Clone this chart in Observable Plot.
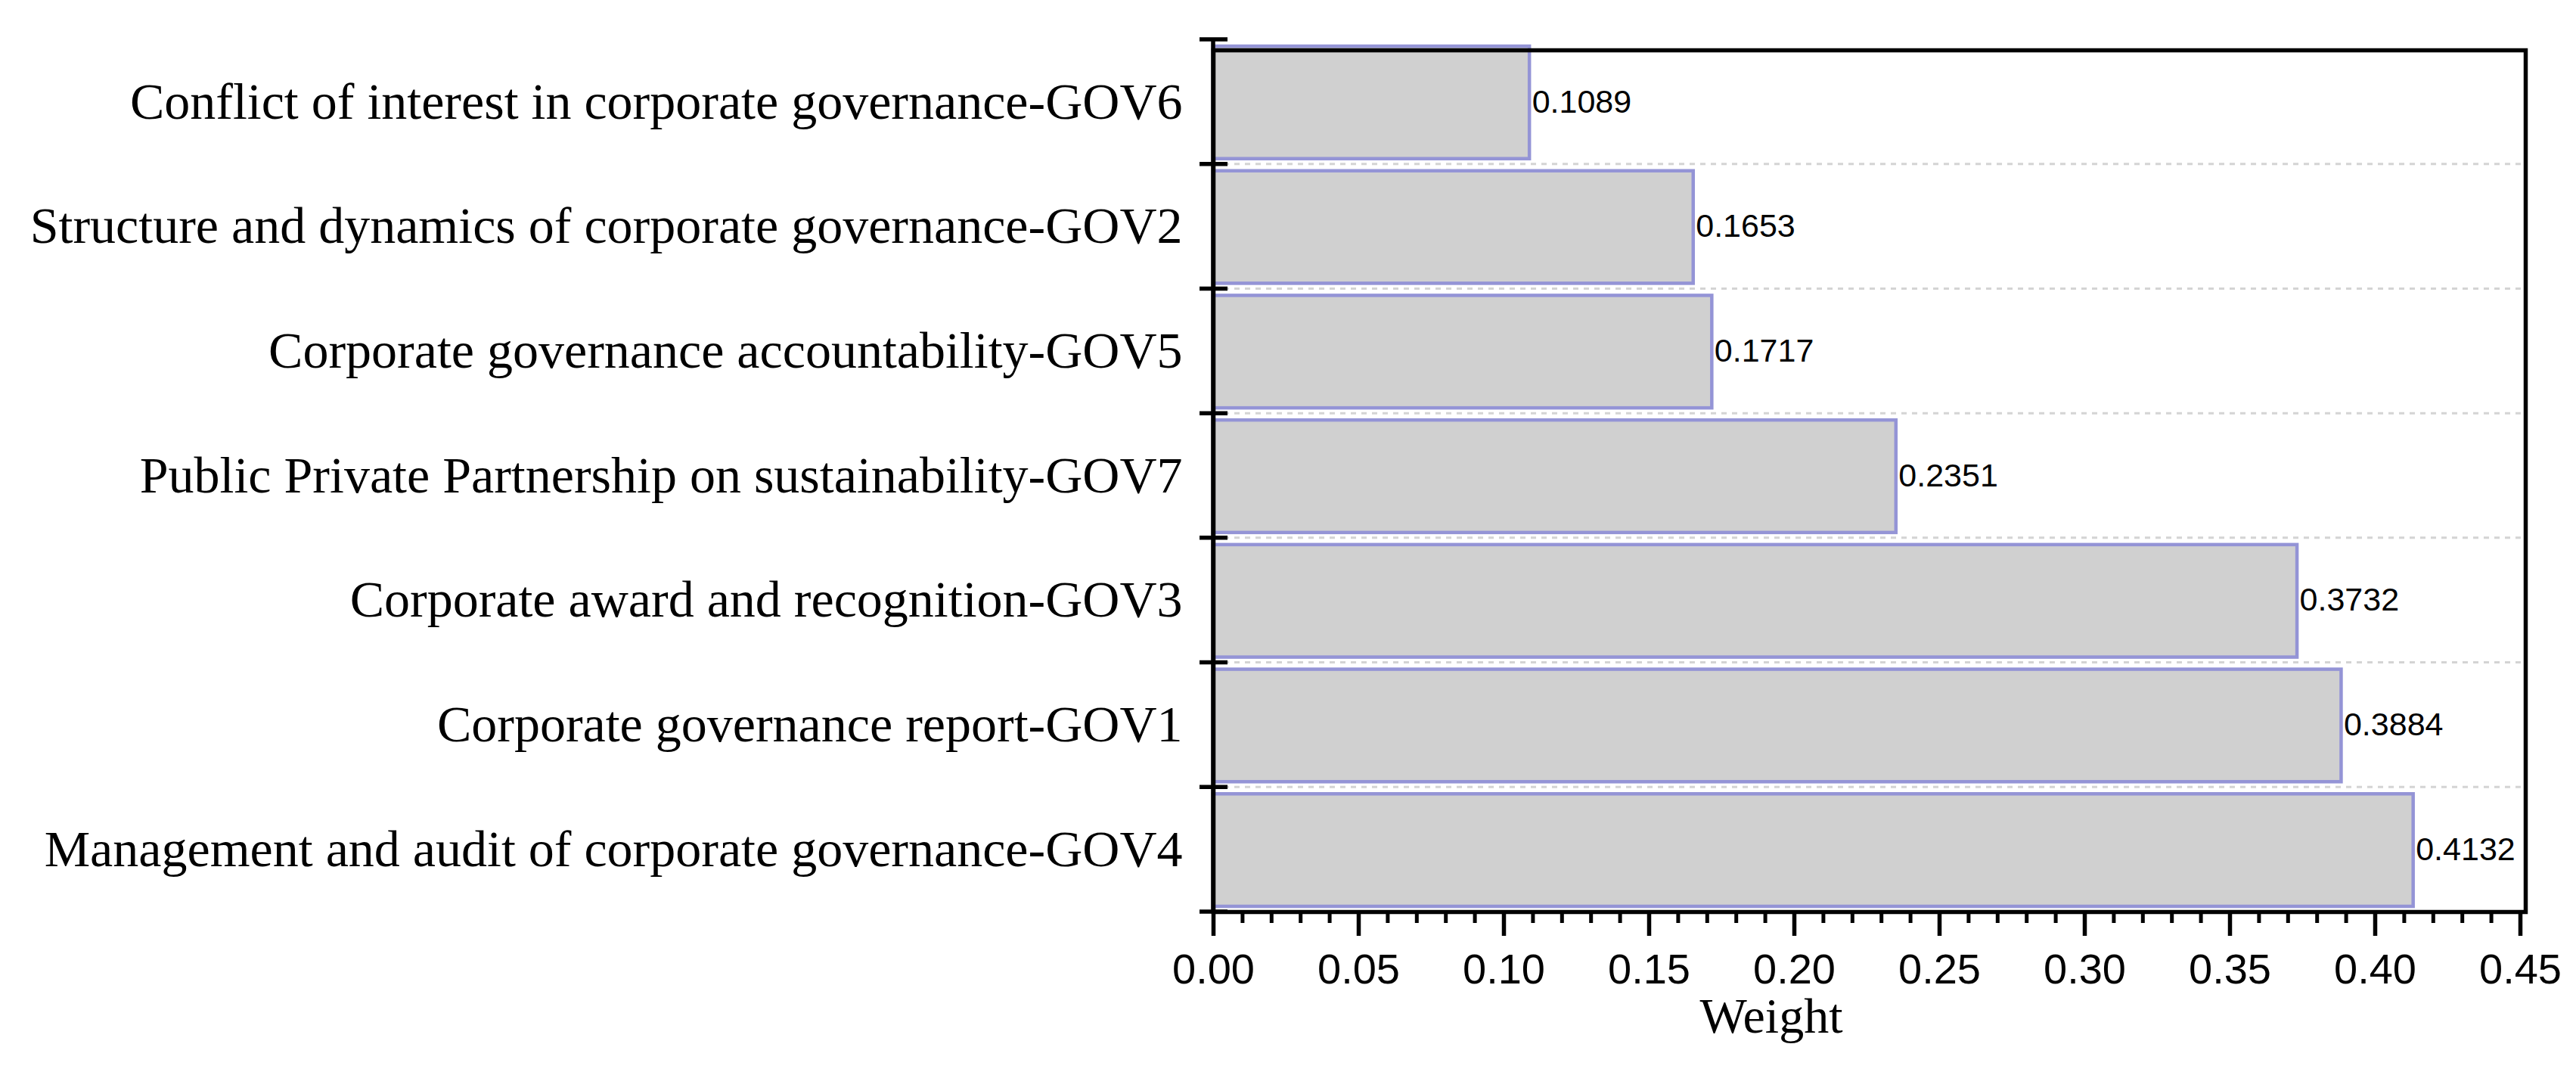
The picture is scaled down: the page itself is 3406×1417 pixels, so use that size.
<!DOCTYPE html>
<html>
<head>
<meta charset="utf-8">
<script src="https://cdn.jsdelivr.net/npm/d3@7"></script>
<script src="https://cdn.jsdelivr.net/npm/@observablehq/plot@0.6"></script>
<style>
  html, body { margin: 0; padding: 0; background: #ffffff; }
  #chart svg { display: block; }
</style>
</head>
<body>
<div id="chart"></div>
<script>
// ---- data (top to bottom, as in the reference) ----
const categories = [
  "Conflict of interest in corporate governance-GOV6",
  "Structure and dynamics of corporate governance-GOV2",
  "Corporate governance accountability-GOV5",
  "Public Private Partnership on sustainability-GOV7",
  "Corporate award and recognition-GOV3",
  "Corporate governance report-GOV1",
  "Management and audit of corporate governance-GOV4"
];
const weights = [0.1089, 0.1653, 0.1717, 0.2351, 0.3732, 0.3884, 0.4132];
const xTickValues = [0, 0.05, 0.10, 0.15, 0.20, 0.25, 0.30, 0.35, 0.40, 0.45];
const xAxisTitle = "Weight";

const data = categories.map((name, i) => ({name, value: weights[i]}));

// band boundary positions derived from the y band scale
function bandEdges(y) {
  const step = y.bandwidth();
  return categories.map(c => y(c)).concat([y(categories[categories.length - 1]) + step]);
}

// dashed horizontal grid lines at the interior band boundaries
function gridLines(index, scales, values, dims) {
  const {x, y} = scales;
  const edges = bandEdges(y).slice(1, -1);
  const right = dims.width - dims.marginRight;
  const g = d3.create("svg:g");
  g.selectAll("line").data(edges).join("line")
    .attr("x1", x(0)).attr("x2", right - 6)
    .attr("y1", d => d).attr("y2", d => d)
    .attr("stroke", "#d4d4d4")
    .attr("stroke-width", 3)
    .attr("stroke-dasharray", "7,7");
  return g.node();
}

// left axis line with crossing ticks at band boundaries
function yAxisLine(index, scales, values, dims) {
  const {x, y} = scales;
  const edges = bandEdges(y);
  const x0 = x(0);
  const g = d3.create("svg:g").attr("stroke", "#000");
  g.append("line")
    .attr("x1", x0).attr("x2", x0)
    .attr("y1", edges[0]).attr("y2", edges[edges.length - 1])
    .attr("stroke-width", 5.5);
  g.selectAll("line.t").data(edges).join("line").attr("class", "t")
    .attr("x1", x0 - 18).attr("x2", x0 + 19)
    .attr("y1", d => d).attr("y2", d => d)
    .attr("stroke-width", 5.5);
  return g.node();
}

const chart = Plot.plot({
  width: 3406,
  height: 1417,
  marginLeft: 1604,
  marginRight: 67,
  marginTop: 66,
  marginBottom: 212,
  style: {background: "#ffffff", overflow: "visible"},
  x: {domain: [0, 0.45], range: [1604, 3332]},
  y: {domain: categories, range: [52, 1205], padding: 0, round: false},
  marks: [
    gridLines,
    Plot.barX(data, {
      x: "value", y: "name",
      fill: "#d0d0d0", stroke: "#9494d6", strokeWidth: 4.5,
      insetTop: 9, insetBottom: 7
    }),
    Plot.frame({stroke: "#000", strokeWidth: 5.5}),
    yAxisLine,
    Plot.axisX({
      ticks: 45, tickSize: 15, tickFormat: () => "", label: null,
      color: "#000", strokeWidth: 5
    }),
    Plot.axisX({
      ticks: xTickValues, tickSize: 32, tickPadding: 23,
      tickFormat: d3.format(".2f"), label: null,
      fontSize: 56, fontFamily: "Liberation Sans",
      color: "#000", strokeWidth: 5.5
    }),
    Plot.axisY({
      tickSize: 0, tickPadding: 41, label: null,
      fontSize: 68, fontFamily: "Liberation Serif", color: "#000"
    }),
    Plot.text(data, {
      x: "value", y: "name", text: d => d.value.toFixed(4),
      textAnchor: "start", dx: 3,
      fontSize: 43, fontFamily: "Liberation Sans", fill: "#000"
    }),
    Plot.text([xAxisTitle], {
      frameAnchor: "bottom", dy: 159, dx: -130,
      fontSize: 66, fontFamily: "Liberation Serif", fill: "#000"
    })
  ]
});

document.getElementById("chart").append(chart);
</script>
</body>
</html>
